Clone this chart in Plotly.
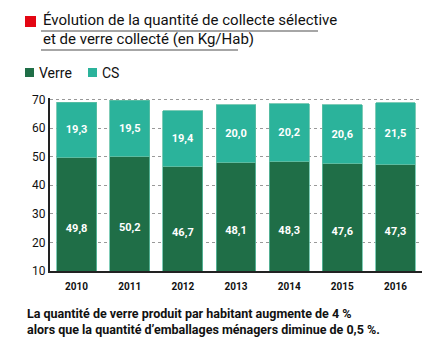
import plotly.graph_objects as go

years = ["2010", "2011", "2012", "2013", "2014", "2015", "2016"]
verre = [49.8, 50.2, 46.7, 48.1, 48.3, 47.6, 47.3]
cs = [19.3, 19.5, 19.4, 20.0, 20.2, 20.6, 21.5]
y_ticks = [10, 20, 30, 40, 50, 60, 70]
series_names = ["Verre", "CS"]

def fmt(v):
    return f"{v:.1f}".replace(".", ",")

FONT = "Liberation Sans Narrow, Arial Narrow, Roboto, sans-serif"
C_VERRE = "#1f6e47"
C_CS = "#2bb39b"
colors = [C_VERRE, C_CS]

W, H = 436, 344
ML, MR, MT, MB = 50, 14, 98, 73
PW, PH = W - ML - MR, H - MT - MB

def px(x):
    return (x - ML) / PW

def py(y):
    return (H - MB - y) / PH

fig = go.Figure()
for name, vals, col in zip(series_names, [verre, cs], colors):
    fig.add_bar(x=years, y=vals, name=name, marker=dict(color=col, line=dict(color="#5fbfa5", width=0.8)),
                text=[f"<b>{fmt(v)}</b>" for v in vals], textposition="inside", insidetextanchor="middle",
                textfont=dict(color="white", size=11, family=FONT))

fig.update_layout(
    width=W, height=H, barmode="stack", bargap=0.25,
    margin=dict(l=ML, r=MR, t=MT, b=MB),
    paper_bgcolor="white", plot_bgcolor="white",
    font=dict(family=FONT, color="#111"),
    uniformtext=dict(minsize=8, mode="show"),
    xaxis=dict(showline=True, linecolor="#222", linewidth=2, ticks="", tickfont=dict(size=10, family=FONT),
               tickprefix="<b>", ticksuffix="</b>", ticklabelstandoff=5),
    yaxis=dict(range=[10, 70.5], tickvals=y_ticks, showline=True, linecolor="#222", linewidth=2,
               showgrid=True, gridcolor="#999", griddash="dot", gridwidth=1, ticks="",
               tickfont=dict(size=12, family=FONT), zeroline=False),
    showlegend=False,
)

# custom legend (tight layout like the reference)
leg_x = [25, 88]
for name, col, lx in zip(series_names, colors, leg_x):
    fig.add_shape(type="rect", xref="paper", yref="paper", x0=px(lx), x1=px(lx + 9), y0=py(77), y1=py(68),
                  fillcolor=col, line=dict(width=0))
    fig.add_annotation(xref="paper", yref="paper", x=px(lx + 12), y=py(72.5), xanchor="left", yanchor="middle",
                       showarrow=False, text=name, font=dict(size=14, family=FONT, color="#111"))

anns = [
    dict(text="Évolution de la quantité de collecte sélective", x=px(41), y=py(20)),
    dict(text="et de verre collecté (en Kg/Hab)", x=px(41), y=py(39)),
]
for a in anns:
    fig.add_annotation(xref="paper", yref="paper", showarrow=False, xanchor="left", yanchor="middle",
                       font=dict(size=15, family=FONT, color="#111"), **a)

fig.add_annotation(xref="paper", yref="paper", x=px(25), y=py(304), xanchor="left", yanchor="top", showarrow=False,
                   align="left", font=dict(size=12.5, family=FONT, color="#111"),
                   text="<b>La quantité de verre produit par habitant augmente de 4 %<br>alors que la quantité d’emballages ménagers diminue de 0,5 %.</b>")

# red square and underlines
fig.add_shape(type="rect", xref="paper", yref="paper", x0=px(25), x1=px(36), y0=py(27), y1=py(16),
              fillcolor="#e30613", line=dict(width=0))
fig.add_shape(type="line", xref="paper", yref="paper", x0=px(41), x1=px(318), y0=py(31), y1=py(31),
              line=dict(color="#888", width=1.5))
fig.add_shape(type="line", xref="paper", yref="paper", x0=px(41), x1=px(238), y0=py(50), y1=py(50),
              line=dict(color="#888", width=1.5))

fig.write_html("out.html")
